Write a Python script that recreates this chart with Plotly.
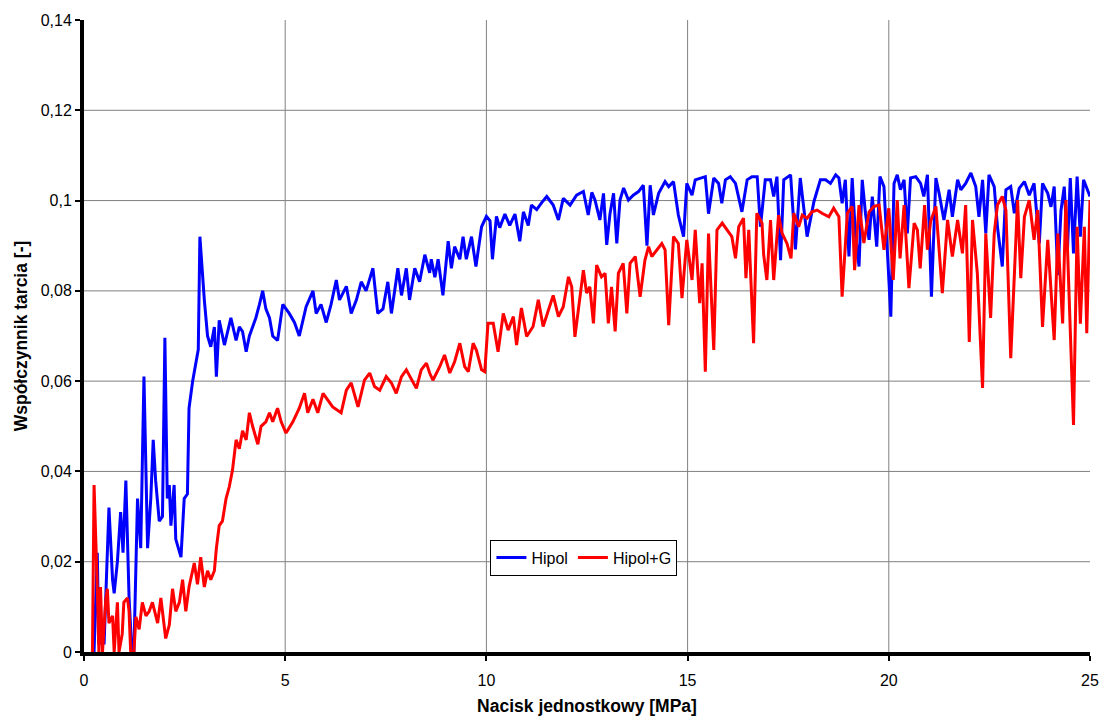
import plotly.graph_objects as go

# Hipol (blue)
hipol_x = [0.25, 0.33, 0.37, 0.50, 0.62, 0.71, 0.75, 0.83, 0.91, 0.97, 1.04, 1.12, 1.19, 1.24, 1.33, 1.41,
           1.49, 1.58, 1.66, 1.72, 1.78, 1.87, 1.95, 2.01, 2.07, 2.12, 2.16, 2.24, 2.28, 2.37, 2.41, 2.49,
           2.57, 2.61, 2.70, 2.78, 2.84, 2.88, 2.93, 2.99, 3.07, 3.15, 3.24, 3.29, 3.36, 3.49, 3.57, 3.65,
           3.78, 3.86, 3.94, 4.03, 4.11, 4.19, 4.27, 4.36, 4.44, 4.52, 4.61, 4.69, 4.81, 4.94, 5.02, 5.10,
           5.23, 5.35, 5.52, 5.69, 5.77, 5.89, 6.02, 6.14, 6.27, 6.35, 6.52, 6.64, 6.77, 6.89, 7.01, 7.18,
           7.30, 7.43, 7.55, 7.64, 7.80, 7.89, 8.01, 8.09, 8.22, 8.34, 8.47, 8.59, 8.63, 8.72, 8.80, 8.92,
           9.05, 9.13, 9.21, 9.34, 9.42, 9.50, 9.63, 9.74, 9.88, 10.00, 10.09, 10.15, 10.25, 10.33, 10.46,
           10.58, 10.71, 10.83, 10.92, 11.04, 11.12, 11.25, 11.37, 11.50, 11.66, 11.79, 11.91, 12.08, 12.24,
           12.41, 12.53, 12.62, 12.70, 12.82, 12.91, 12.99, 13.07, 13.16, 13.24, 13.32, 13.41, 13.53, 13.65,
           13.78, 13.90, 13.99, 14.07, 14.15, 14.28, 14.44, 14.53, 14.65, 14.77, 14.90, 14.98, 15.11, 15.19,
           15.31, 15.44, 15.52, 15.65, 15.77, 15.85, 15.94, 16.06, 16.19, 16.35, 16.48, 16.60, 16.73, 16.81,
           16.93, 17.06, 17.14, 17.22, 17.31, 17.39, 17.56, 17.68, 17.80, 17.97, 18.14, 18.30, 18.43, 18.55,
           18.68, 18.76, 18.84, 18.92, 19.01, 19.09, 19.17, 19.26, 19.34, 19.42, 19.51, 19.59, 19.70, 19.78,
           19.88, 19.96, 20.05, 20.13, 20.21, 20.29, 20.38, 20.46, 20.54, 20.67, 20.79, 20.87, 20.96, 21.06,
           21.17, 21.25, 21.37, 21.50, 21.58, 21.71, 21.79, 21.91, 22.04, 22.16, 22.24, 22.33, 22.41, 22.49,
           22.62, 22.70, 22.82, 22.91, 23.03, 23.12, 23.24, 23.37, 23.49, 23.61, 23.74, 23.82, 23.95, 24.03,
           24.11, 24.20, 24.28, 24.36, 24.44, 24.51, 24.59, 24.68, 24.76, 24.84, 24.94, 25.00]
hipol_y = [0.0, 0.022, 0.002, 0.002, 0.032, 0.016, 0.013, 0.020, 0.031, 0.022, 0.038, 0.012, 0.0, 0.0, 0.034, 0.023,
           0.061, 0.023, 0.034, 0.047, 0.038, 0.029, 0.030, 0.0696, 0.034, 0.037, 0.028, 0.037, 0.025, 0.022, 0.021, 0.034,
           0.035, 0.054, 0.060, 0.064, 0.067, 0.092, 0.085, 0.078, 0.070, 0.0676, 0.072, 0.061, 0.0735, 0.068, 0.071, 0.074,
           0.069, 0.072, 0.071, 0.0665, 0.070, 0.072, 0.074, 0.077, 0.080, 0.076, 0.074, 0.070, 0.069, 0.077, 0.076, 0.075,
           0.073, 0.070, 0.0765, 0.080, 0.075, 0.077, 0.073, 0.077, 0.0824, 0.078, 0.081, 0.075, 0.078, 0.082, 0.080, 0.085,
           0.075, 0.076, 0.082, 0.075, 0.085, 0.079, 0.085, 0.078, 0.085, 0.082, 0.088, 0.084, 0.087, 0.083, 0.087, 0.079,
           0.091, 0.085, 0.0898, 0.087, 0.092, 0.087, 0.092, 0.0854, 0.0942, 0.0965, 0.0955, 0.087, 0.0965, 0.094, 0.097,
           0.0945, 0.097, 0.091, 0.0975, 0.0945, 0.099, 0.098, 0.0995, 0.1009, 0.099, 0.0957, 0.1005, 0.099, 0.1012,
           0.1020, 0.0968, 0.1018, 0.1001, 0.0957, 0.1016, 0.0902, 0.097, 0.1016, 0.0905, 0.1001, 0.1028, 0.1001, 0.1012,
           0.102, 0.1034, 0.090, 0.1034, 0.0968, 0.1016, 0.1042, 0.1031, 0.1042, 0.0968, 0.092, 0.1038, 0.1012, 0.1046,
           0.105, 0.1053, 0.0971, 0.105, 0.1038, 0.0994, 0.1046, 0.1053, 0.1038, 0.0975, 0.1046, 0.1053, 0.1053, 0.0942,
           0.1046, 0.1046, 0.1009, 0.1053, 0.0868, 0.1046, 0.1057, 0.0892, 0.1050, 0.092, 0.0998, 0.1046, 0.1046, 0.1038,
           0.1057, 0.1050, 0.0994, 0.1046, 0.0876, 0.1050, 0.0927, 0.0854, 0.1046, 0.0972, 0.0913, 0.1009, 0.0898, 0.1053,
           0.1031, 0.0898, 0.0743, 0.1038, 0.1057, 0.1024, 0.1046, 0.0927, 0.1050, 0.1053, 0.1038, 0.1009, 0.1057, 0.0787,
           0.1050, 0.1016, 0.0957, 0.1024, 0.0964, 0.1046, 0.1024, 0.1038, 0.1061, 0.1031, 0.0964, 0.1046, 0.0927, 0.1057,
           0.1031, 0.0942, 0.0854, 0.1024, 0.1031, 0.0972, 0.1027, 0.1042, 0.1012, 0.1038, 0.0905, 0.1038, 0.1016, 0.0986,
           0.1031, 0.0835, 0.0979, 0.1031, 0.0891, 0.1050, 0.0883, 0.1053, 0.0920, 0.1046, 0.1024, 0.1009]

# Hipol+G (red)
hipolg_x = [0.21, 0.25, 0.33, 0.37, 0.41, 0.46, 0.54, 0.58, 0.62, 0.71, 0.75, 0.83, 0.87, 0.95, 0.99, 1.08,
            1.12, 1.16, 1.24, 1.29, 1.37, 1.45, 1.54, 1.62, 1.70, 1.83, 1.91, 2.03, 2.12, 2.20, 2.28, 2.37,
            2.45, 2.53, 2.61, 2.74, 2.82, 2.90, 2.99, 3.07, 3.15, 3.24, 3.29, 3.36, 3.44, 3.53, 3.61, 3.69,
            3.78, 3.86, 3.94, 4.03, 4.11, 4.19, 4.32, 4.40, 4.52, 4.61, 4.69, 4.81, 4.90, 5.02, 5.19, 5.35,
            5.48, 5.56, 5.69, 5.81, 5.94, 6.06, 6.18, 6.39, 6.52, 6.64, 6.81, 6.97, 7.10, 7.22, 7.35, 7.51,
            7.64, 7.76, 7.89, 8.01, 8.14, 8.26, 8.38, 8.51, 8.59, 8.67, 8.84, 8.96, 9.09, 9.21, 9.34, 9.46,
            9.55, 9.67, 9.75, 9.88, 9.96, 10.04, 10.17, 10.29, 10.42, 10.54, 10.67, 10.75, 10.87, 11.00, 11.16,
            11.29, 11.41, 11.54, 11.66, 11.79, 11.91, 12.04, 12.12, 12.20, 12.28, 12.41, 12.49, 12.57, 12.66,
            12.74, 12.86, 12.95, 13.03, 13.11, 13.20, 13.28, 13.40, 13.49, 13.57, 13.70, 13.82, 13.94, 14.03,
            14.11, 14.24, 14.36, 14.44, 14.53, 14.65, 14.77, 14.86, 14.98, 15.11, 15.19, 15.30, 15.36, 15.44,
            15.52, 15.65, 15.73, 15.86, 15.98, 16.10, 16.19, 16.27, 16.39, 16.45, 16.52, 16.64, 16.72, 16.85,
            16.89, 16.97, 17.06, 17.14, 17.26, 17.35, 17.47, 17.57, 17.64, 17.76, 17.85, 17.97, 18.09, 18.22,
            18.34, 18.51, 18.63, 18.76, 18.84, 18.97, 19.09, 19.15, 19.26, 19.38, 19.51, 19.63, 19.76, 19.88,
            20.00, 20.11, 20.21, 20.28, 20.38, 20.50, 20.63, 20.71, 20.78, 20.89, 20.96, 21.04, 21.17, 21.33,
            21.46, 21.58, 21.71, 21.83, 21.91, 22.00, 22.08, 22.20, 22.33, 22.41, 22.53, 22.62, 22.70, 22.82,
            22.91, 23.03, 23.12, 23.20, 23.28, 23.37, 23.49, 23.61, 23.70, 23.82, 23.95, 24.11, 24.20, 24.32,
            24.40, 24.49, 24.59, 24.68, 24.76, 24.86, 24.92, 25.00]
hipolg_y = [0.0, 0.037, 0.0144, 0.0, 0.0144, 0.0, 0.0115, 0.014, 0.0064, 0.008, 0.0, 0.011, 0.0, 0.004, 0.011, 0.012,
            0.009, 0.0, 0.0, 0.0078, 0.005, 0.011, 0.008, 0.009, 0.011, 0.0064, 0.012, 0.003, 0.006, 0.014, 0.009, 0.011,
            0.016, 0.009, 0.0144, 0.0197, 0.015, 0.021, 0.0144, 0.018, 0.016, 0.018, 0.023, 0.028, 0.029, 0.034, 0.0366, 0.0403,
            0.047, 0.045, 0.049, 0.047, 0.053, 0.050, 0.046, 0.050, 0.051, 0.053, 0.051, 0.054, 0.051, 0.0485, 0.051, 0.054,
            0.0573, 0.053, 0.056, 0.053, 0.0573, 0.0558, 0.0543, 0.053, 0.058, 0.0596, 0.0543, 0.0602, 0.0618, 0.0588, 0.058, 0.061,
            0.0596, 0.0573, 0.061, 0.0625, 0.0602, 0.0584, 0.0625, 0.064, 0.0618, 0.0602, 0.0632, 0.0658, 0.0618, 0.0643, 0.0684, 0.0632,
            0.0621, 0.0684, 0.0669, 0.0625, 0.0621, 0.0728, 0.0728, 0.0665, 0.075, 0.0713, 0.0743, 0.068, 0.0762, 0.0699, 0.0721,
            0.078, 0.0721, 0.0758, 0.079, 0.0743, 0.0765, 0.0831, 0.0809, 0.0698, 0.0750, 0.0846, 0.0795, 0.0809, 0.0728,
            0.0857, 0.0831, 0.0839, 0.0728, 0.0809, 0.071, 0.0839, 0.0861, 0.0750, 0.0861, 0.0876, 0.0787, 0.0868, 0.0898,
            0.0876, 0.0891, 0.0905, 0.0891, 0.0724, 0.092, 0.0905, 0.0784, 0.0913, 0.0824, 0.0935, 0.0773, 0.0861, 0.0621,
            0.0927, 0.0669, 0.0935, 0.095, 0.0935, 0.0920, 0.0872, 0.0942, 0.0961, 0.0828, 0.0935, 0.0684, 0.0972, 0.095,
            0.0880, 0.0824, 0.0957, 0.0824, 0.0968, 0.0927, 0.0905, 0.0872, 0.0972, 0.0942, 0.0968, 0.0961, 0.0975, 0.0979,
            0.0972, 0.0964, 0.0983, 0.0964, 0.0787, 0.0972, 0.0987, 0.0846, 0.0990, 0.0906, 0.0975, 0.0987, 0.0990, 0.0891,
            0.0983, 0.0824, 0.1001, 0.0872, 0.0990, 0.0806, 0.0950, 0.0935, 0.0850, 0.0990, 0.0891, 0.0954, 0.0987, 0.0795,
            0.0957, 0.0876, 0.0957, 0.0883, 0.0990, 0.0687, 0.0957, 0.0839, 0.0585, 0.0927, 0.0740, 0.0927, 0.0990, 0.1009,
            0.0979, 0.0651, 0.0835, 0.1001, 0.0828, 0.0964, 0.1001, 0.0913, 0.0979, 0.0720, 0.0913, 0.0691, 0.0927, 0.0728,
            0.1001, 0.0765, 0.0503, 0.0942, 0.0727, 0.0942, 0.0706, 0.1001]

x_ticks = [0, 5, 10, 15, 20, 25]
y_ticks = [0, 0.02, 0.04, 0.06, 0.08, 0.10, 0.12, 0.14]
y_tick_labels = ["0", "0,02", "0,04", "0,06", "0,08", "0,1", "0,12", "0,14"]
x_grid = [5, 10, 15, 20]
y_grid = [0.02, 0.04, 0.06, 0.08, 0.10, 0.12]

FONT = "Liberation Sans, Arial, sans-serif"

fig = go.Figure()
fig.add_trace(go.Scatter(x=hipol_x, y=hipol_y, mode="lines", name="Hipol",
                         line=dict(color="#0000FF", width=3)))
fig.add_trace(go.Scatter(x=hipolg_x, y=hipolg_y, mode="lines", name="Hipol+G",
                         line=dict(color="#FF0000", width=3)))

shapes = []
for gx in x_grid:
    shapes.append(dict(type="line", xref="x", yref="paper", x0=gx, x1=gx, y0=0, y1=1,
                       line=dict(color="#808080", width=1), layer="below"))
for gy in y_grid:
    shapes.append(dict(type="line", xref="paper", yref="y", x0=0, x1=1, y0=gy, y1=gy,
                       line=dict(color="#808080", width=1), layer="below"))

fig.update_layout(
    width=1103, height=716,
    margin=dict(l=84, r=13, t=20, b=64),
    paper_bgcolor="white", plot_bgcolor="white",
    font=dict(family=FONT, size=16, color="black"),
    shapes=shapes,
    showlegend=True,
    legend=dict(orientation="h", x=0.404, y=0.178, xanchor="left", yanchor="top",
                bgcolor="white", bordercolor="black", borderwidth=1,
                font=dict(family=FONT, size=16, color="black"),
                tracegroupgap=0, itemwidth=30),
    xaxis=dict(range=[0, 25], tickvals=x_ticks, ticktext=[str(v) for v in x_ticks],
               showgrid=False, zeroline=False, showline=True, linecolor="black", linewidth=4,
               ticks="outside", ticklen=5, tickwidth=2, tickcolor="black", ticklabelstandoff=6,
               tickfont=dict(size=16), automargin=False,
               title=dict(text="<b>Nacisk jednostkowy [MPa]</b>", font=dict(size=17.5), standoff=14)),
    yaxis=dict(range=[0, 0.14], tickvals=y_ticks, ticktext=y_tick_labels,
               showgrid=False, zeroline=False, showline=True, linecolor="black", linewidth=4,
               ticks="outside", ticklen=5, tickwidth=2, tickcolor="black",
               tickfont=dict(size=16), automargin=False,
               title=dict(text="<b>Współczynnik tarcia [-]</b>", font=dict(size=17.5), standoff=10)),
)

fig.write_html("out.html")
